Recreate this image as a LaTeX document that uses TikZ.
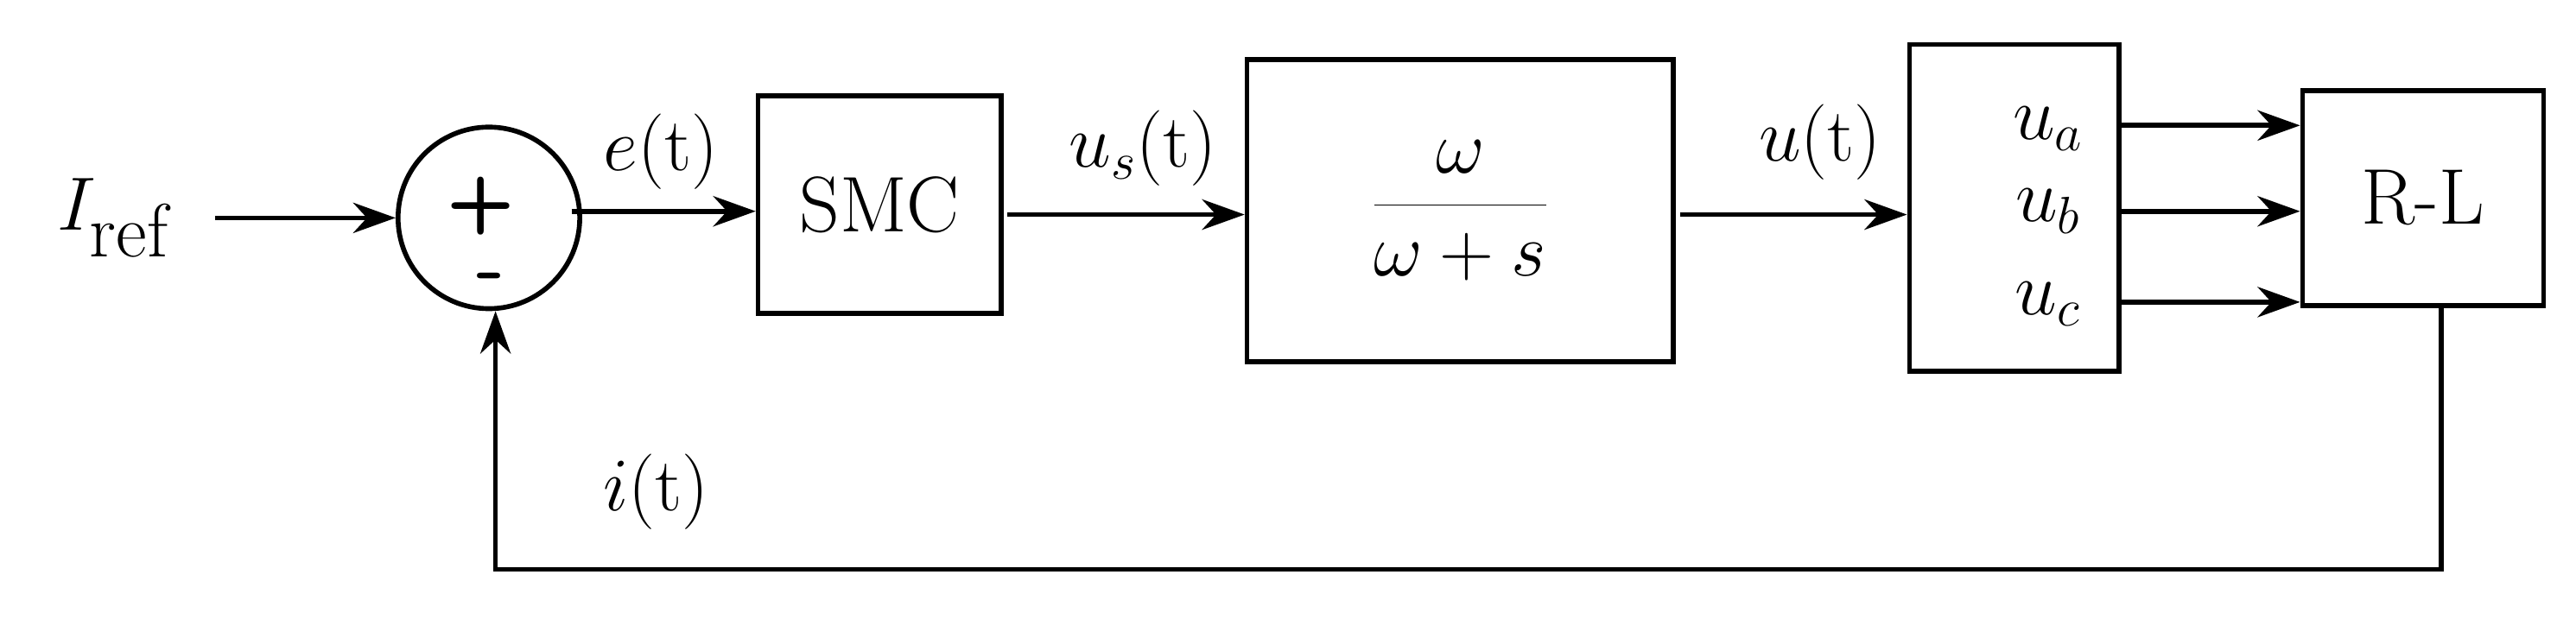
\documentclass[tikz,border=0pt]{standalone}
\usetikzlibrary{arrows.meta}
\begin{document}
\begin{tikzpicture}[x=0.01912cm,y=-0.01912cm,
  line width=1.6pt,
  blk/.style={draw,line width=1.6pt,inner sep=0pt},
  arr/.style={-{Stealth[length=14pt,width=10pt]}},
  lbl/.style={font=\fontsize{26}{30}\selectfont,inner sep=0pt}]
\useasboundingbox (0,0) rectangle (1559.6,375);
\node[lbl,font=\fontsize{34}{40}\selectfont] (iref) at (70,132) {$I_{\mathrm{ref}}$};
\node[draw,circle,minimum size=110*0.01912cm,line width=1.6pt,inner sep=0pt] (sum) at (296,132) {};
\node[lbl] (plus) at (291,125) {\textsf{\textbf{+}}};
\node[lbl] (minus) at (297,172) {\textsf{\textbf{-}}};
\node[blk,minimum width=147*0.01912cm,minimum height=132*0.01912cm] (smc) at (532.5,124) {};
\node[lbl] (smct) at (532.5,124) {SMC};
\node[blk,minimum width=258*0.01912cm,minimum height=183*0.01912cm] (tf) at (884,127.5) {};
\node[lbl] (tft) at (884,127.5) {$\displaystyle\frac{\omega}{\omega+s}$};
\node[blk,minimum width=127*0.01912cm,minimum height=198*0.01912cm] (abc) at (1219.5,126) {};
\node[lbl] (ua) at (1240,78) {$u_a$};
\node[lbl] (ub) at (1240,128) {$u_b$};
\node[lbl] (uc) at (1240,184) {$u_c$};
\node[blk,minimum width=146*0.01912cm,minimum height=130*0.01912cm] (rl) at (1467,120) {};
\node[lbl] (rlt) at (1467,120) {R-L};
\coordinate (c1) at (1478,345);
\coordinate (c2) at (300,345);
\node[lbl] (et) at (400,92) {$e(\mathrm{t})$};
\node[lbl] (ust) at (692,90) {$u_s(\mathrm{t})$};
\node[lbl] (ut) at (1102,86) {$u(\mathrm{t})$};
\node[lbl] (it) at (397,298) {$i(\mathrm{t})$};
\draw[arr] (130,132) -- (sum.west);
\draw[arr] (346,128) -- (smc.west |- 0,128);
\draw[arr] (610,130) -- (tf.west |- 0,130);
\draw[arr] (1017,130) -- (abc.west |- 0,130);
\draw[arr] (abc.east |- 0,76) -- (rl.west |- 0,76);
\draw[arr] (abc.east |- 0,128) -- (rl.west |- 0,128);
\draw[arr] (abc.east |- 0,183) -- (rl.west |- 0,183);
\draw[arr] (rl.south -| c1) -- (c1) -- (c2) -- (sum.south -| c2);
\end{tikzpicture}
\end{document}
